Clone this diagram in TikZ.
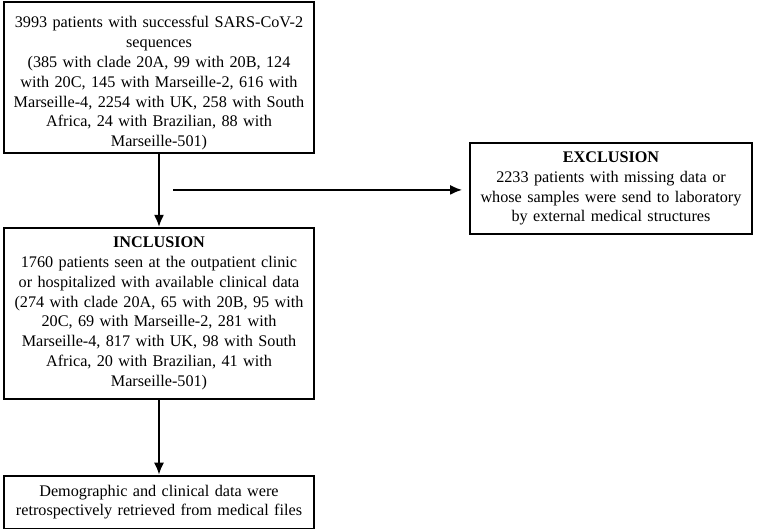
\documentclass[tikz,border=0pt]{standalone}
\usepackage{fontspec}
\setmainfont{Liberation Serif}
\usetikzlibrary{positioning, calc, arrows.meta}

\tikzset{
	box/.style={draw, line width=1.8pt, text width=308pt, align=center, inner sep=1pt,
		font=\fontsize{16.2}{19.8}\selectfont},
	flow/.style={line width=1.8pt, -{Latex[length=12pt,width=10pt]}}
}

\begin{document}
\begin{tikzpicture}[x=1pt,y=1pt]
		\useasboundingbox (0,0) rectangle (757,-528);
		\node[box,minimum height=151pt] (seq) at (159,-77.5) {\rule{0pt}{23pt}3993 patients with successful SARS-CoV-2\\ sequences\\ (385 with clade 20A, 99 with 20B, 124\\ with 20C, 145 with Marseille-2, 616 with\\ Marseille-4, 2254 with UK, 258 with South\\ Africa, 24 with Brazilian, 88 with\\ Marseille-501)};
		\node[box,minimum height=171pt] (incl) [below=73pt of seq] {\textbf{INCLUSION}\\ 1760 patients seen at the outpatient clinic\\ or hospitalized with available clinical data\\ (274 with clade 20A, 65 with 20B, 95 with\\ 20C, 69 with Marseille-2, 281 with\\ Marseille-4, 817 with UK, 98 with South\\ Africa, 20 with Brazilian, 41 with\\ Marseille-501)};
		\node[box,minimum height=53pt] (retr) [below=75pt of incl] {Demographic and clinical data were\\ retrospectively retrieved from medical files};
		\node[box,text width=280pt,minimum height=91pt] (excl) at (611,-188.5) {\textbf{EXCLUSION}\\ 2233 patients with missing data or\\ whose samples were send to laboratory\\ by external medical structures};
		\coordinate (split) at ($(seq.south)!0.5!(incl.north)+(14,0.5)$);
		\draw[flow] (seq) -- (incl);
		\draw[flow] (incl) -- (retr);
		\draw[flow,shorten >=7pt] (split) -- (split -| excl.west);
	\end{tikzpicture}
\end{document}
